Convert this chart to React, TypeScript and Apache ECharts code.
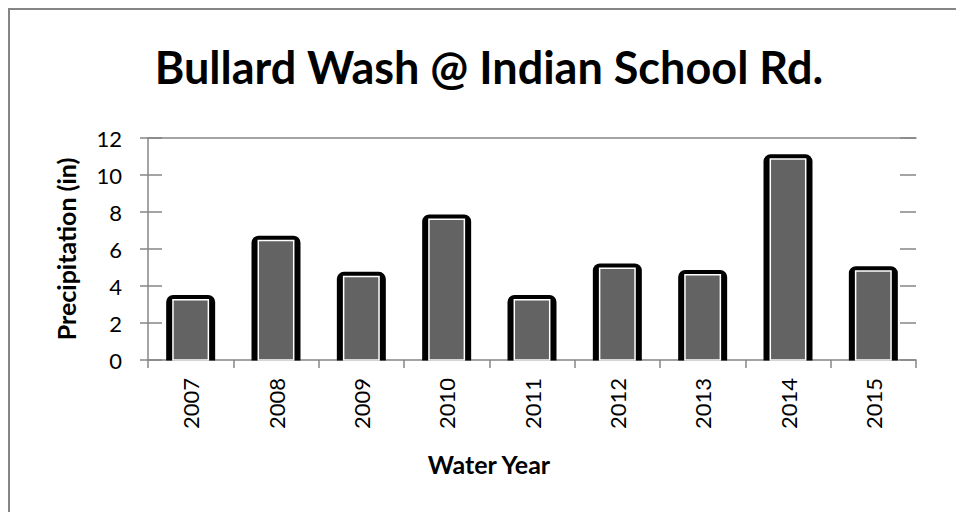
import React, { useEffect, useRef } from "react";
import * as echarts from "echarts";

const categories = ["2007", "2008", "2009", "2010", "2011", "2012", "2013", "2014", "2015"];
const precipitation = [3.3, 6.5, 4.55, 7.65, 3.3, 5.0, 4.65, 10.9, 4.85];
const yTicks = { min: 0, max: 12, interval: 2 };
const titleText = "Bullard Wash @ Indian School Rd.";
const yAxisTitle = "Precipitation (in)";
const xAxisTitle = "Water Year";

const FONT = "Lato, 'Noto Sans', sans-serif";
const AXIS_GRAY = "#868686";

export default function App() {
  const ref = useRef<HTMLDivElement>(null);
  useEffect(() => {
    if (!ref.current) return;
    const chart = echarts.init(ref.current, null, { renderer: "svg" });
    const data = categories.map((c, i) => [i, precipitation[i]]);
    const baseY = {
      type: "value",
      min: yTicks.min,
      max: yTicks.max,
      interval: yTicks.interval,
      splitLine: { show: false },
    };
    chart.setOption({
      animation: false,
      backgroundColor: "#ffffff",
      textStyle: { fontFamily: FONT },
      grid: { left: 148, top: 138, right: 40, bottom: 152, containLabel: false },
      xAxis: [
        {
          type: "category",
          data: categories,
          position: "bottom",
          axisLine: { show: true, onZero: false, lineStyle: { color: AXIS_GRAY, width: 1.5 } },
          axisTick: { show: true, length: 8, lineStyle: { color: AXIS_GRAY, width: 1.5 } },
          axisLabel: { rotate: 90, margin: 18, fontSize: 22, color: "#000", fontFamily: FONT },
          splitLine: { show: false },
        },
        {
          type: "category",
          data: categories,
          position: "top",
          axisLine: { show: true, onZero: false, lineStyle: { color: AXIS_GRAY, width: 1.5 } },
          axisTick: { show: false },
          axisLabel: { show: false },
          splitLine: { show: false },
        },
      ],
      yAxis: [
        {
          ...baseY,
          position: "left",
          axisLine: { show: true, onZero: false, lineStyle: { color: AXIS_GRAY, width: 1.5 } },
          axisTick: { show: true, length: 8, lineStyle: { color: AXIS_GRAY, width: 1.5 } },
          axisLabel: { margin: 26, fontSize: 22, color: "#000", fontFamily: FONT },
          name: yAxisTitle,
          nameLocation: "middle",
          nameRotate: 90,
          nameGap: 70,
          nameTextStyle: { fontSize: 25, fontWeight: "bold", color: "#000", fontFamily: FONT },
        },
        {
          ...baseY,
          position: "left",
          axisLine: { show: false, onZero: false },
          axisTick: { show: true, inside: true, length: 14, lineStyle: { color: AXIS_GRAY, width: 1.5 } },
          axisLabel: { show: false },
        },
        {
          ...baseY,
          position: "right",
          axisLine: { show: false, onZero: false },
          axisTick: { show: true, inside: true, length: 16, lineStyle: { color: AXIS_GRAY, width: 1.5 } },
          axisLabel: { show: false },
        },
      ],
      series: [
        {
          type: "custom",
          xAxisIndex: 0,
          yAxisIndex: 0,
          data,
          encode: { x: 0, y: 1 },
          renderItem: (params: any, api: any) => {
            const idx = api.value(0);
            const val = api.value(1);
            const top = api.coord([idx, val]);
            const base = api.coord([idx, 0]);
            const band = api.size([1, 0])[0];
            const outerW = band * 0.574;
            const innerW = band * 0.415;
            return {
              type: "group",
              children: [
                {
                  type: "rect",
                  shape: {
                    x: top[0] - outerW / 2,
                    y: top[1] - 4,
                    width: outerW,
                    height: base[1] - top[1] + 4.5,
                    r: [7, 7, 0, 0],
                  },
                  style: { fill: "#000000" },
                },
                {
                  type: "rect",
                  shape: {
                    x: top[0] - innerW / 2,
                    y: top[1] + 0.75,
                    width: innerW,
                    height: base[1] - top[1] - 0.75,
                  },
                  style: { fill: "#636363", stroke: "#ffffff", lineWidth: 1.5 },
                },
              ],
            };
          },
          z: 1,
        },
      ],
      graphic: [
        {
          type: "line",
          shape: { x1: 9, y1: 8, x2: 9, y2: 512 },
          style: { stroke: "#858585", lineWidth: 2 },
          silent: true,
        },
        {
          type: "line",
          shape: { x1: 8, y1: 9, x2: 956, y2: 9 },
          style: { stroke: "#858585", lineWidth: 2 },
          silent: true,
        },
        {
          type: "text",
          x: 489,
          y: 67,
          style: {
            text: titleText,
            fontSize: 45,
            fontWeight: "bold",
            fontFamily: FONT,
            fill: "#000",
            align: "center",
            verticalAlign: "middle",
          },
        },
        {
          type: "text",
          x: 489,
          y: 464,
          style: {
            text: xAxisTitle,
            fontSize: 25,
            fontWeight: "bold",
            fontFamily: FONT,
            fill: "#000",
            align: "center",
            verticalAlign: "middle",
          },
        },
      ],
    });
    return () => chart.dispose();
  }, []);
  return (
    <div
      ref={ref}
      style={{ position: "fixed", left: 0, top: 0, width: 956, height: 512 }}
    />
  );
}
